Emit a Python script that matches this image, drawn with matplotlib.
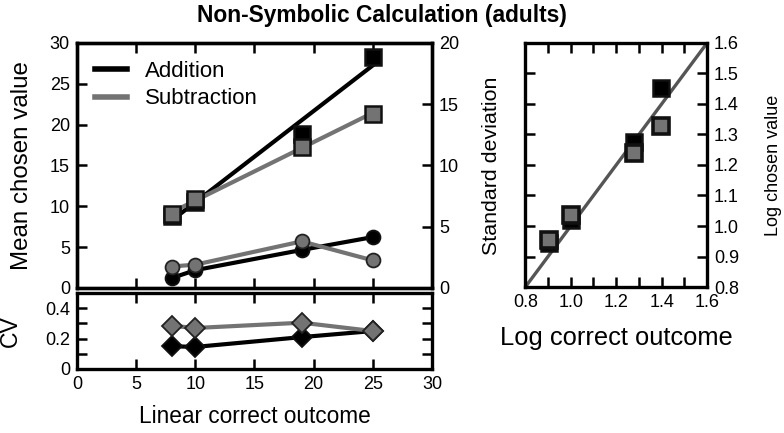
import numpy as np
import matplotlib
matplotlib.use("Agg")
import matplotlib.pyplot as plt
from matplotlib.ticker import MultipleLocator, FixedLocator, FormatStrFormatter

# values
outcome = np.array([8, 10, 19, 25])
add_mean = np.array([8.8, 10.5, 18.9, 28.3])
sub_mean = np.array([9.0, 10.9, 17.3, 21.3])
add_sd = np.array([0.8, 1.45, 3.1, 4.15])
sub_sd = np.array([1.75, 1.9, 3.8, 2.25])
add_cv = np.array([0.15, 0.145, 0.21, 0.25])
sub_cv = np.array([0.285, 0.27, 0.305, 0.25])

BLACK = "black"
GRAY = "#737373"

plt.rcParams["font.family"] = "Liberation Sans"
plt.rcParams["font.size"] = 13

fig = plt.figure(figsize=(7.84, 4.33), dpi=100)
ax = fig.add_axes([0.098, 0.335, 0.453, 0.566])
ax_sd = ax.twinx()
ax_cv = fig.add_axes([0.098, 0.148, 0.453, 0.175])
ax_log = fig.add_axes([0.670, 0.337, 0.232, 0.564])


def style(a):
    for s in a.spines.values():
        s.set_linewidth(2.4)
    a.tick_params(which="both", direction="in", width=1.8, length=7, labelsize=13, pad=5)


# mean chosen value, with linear fits
for mean, col in [(add_mean, BLACK), (sub_mean, GRAY)]:
    slope, icpt = np.polyfit(outcome, mean, 1)
    xs = np.array([outcome.min(), outcome.max()])
    ax.plot(xs, slope * xs + icpt, color=col, lw=3, zorder=2)
    ax.plot(outcome, mean, "s", ms=12, mfc=col, mec="#111111", mew=1.8, zorder=3)
ax.plot([], [], color=BLACK, lw=4, label="Addition")
ax.plot([], [], color=GRAY, lw=4, label="Subtraction")
ax.legend(loc="upper left", frameon=False, fontsize=16, handlelength=1.45,
          handletextpad=0.8, borderaxespad=0.4, labelspacing=0.3)
ax.set_xlim(0, 30)
ax.set_ylim(0, 30)
ax.xaxis.set_major_locator(MultipleLocator(5))
ax.set_yticks([0, 5, 10, 15, 20, 25, 30])
ax.tick_params(labelbottom=False, top=True)
ax.set_ylabel("Mean chosen value", fontsize=17.4)
ax.yaxis.set_label_coords(-0.124, 0.5)
style(ax)

# standard deviation on twin axis
ax_sd.plot(outcome, add_sd, "o-", color=BLACK, lw=3, ms=10, mec="#111111", mew=1.3, zorder=3)
ax_sd.plot(outcome, sub_sd, "o-", color=GRAY, lw=3, ms=10, mec="#222222", mew=1.3, zorder=3)
ax_sd.set_ylim(0, 20)
ax_sd.set_yticks([0, 5, 10, 15, 20])
ax_sd.set_ylabel("Standard deviation", fontsize=15.4)
ax_sd.yaxis.set_label_coords(1.141, 0.5)
style(ax_sd)

# coefficient of variation
ax_cv.plot(outcome, add_cv, "D-", color=BLACK, lw=3, ms=10, mec="#111111", mew=1.3)
ax_cv.plot(outcome, sub_cv, "D-", color=GRAY, lw=3, ms=10, mec="#222222", mew=1.3)
ax_cv.set_xlim(0, 30)
ax_cv.xaxis.set_major_locator(MultipleLocator(5))
ax_cv.yaxis.set_major_locator(FixedLocator([0, 0.1, 0.2, 0.3, 0.4]))
ax_cv.yaxis.set_major_formatter(
    matplotlib.ticker.FuncFormatter(lambda v, p: {0: "0", 2: "0.2", 4: "0.4"}.get(round(v * 10), "")))
ax_cv.set_ylim(0, 0.5)
ax_cv.tick_params(top=True, right=True)
ax_cv.set_ylabel("CV", fontsize=16.6)
ax_cv.yaxis.set_label_coords(-0.155, 0.5)
ax_cv.set_xlabel("Linear correct outcome", fontsize=16.3)
ax_cv.xaxis.set_label_coords(0.5, -0.47)
style(ax_cv)

# log-log panel
ax_log.plot([0.8, 1.6], [0.8, 1.6], color="#555555", lw=2.4, zorder=2)
ax_log.plot(np.log10(outcome), np.log10(add_mean), "s", ms=12, mfc=BLACK,
            mec="#111111", mew=1.8, zorder=3)
ax_log.plot(np.log10(outcome), np.log10(sub_mean), "s", ms=11, mfc=GRAY,
            mec="#111111", mew=2.6, zorder=4)
ax_log.set_xlim(0.8, 1.6)
ax_log.set_ylim(0.8, 1.6)
ax_log.xaxis.set_major_locator(FixedLocator([0.8, 1.0, 1.2, 1.4, 1.6]))
ax_log.xaxis.set_minor_locator(MultipleLocator(0.1))
ax_log.yaxis.set_major_locator(MultipleLocator(0.1))
ax_log.xaxis.set_major_formatter(FormatStrFormatter("%.1f"))
ax_log.yaxis.set_major_formatter(FormatStrFormatter("%.1f"))
ax_log.tick_params(which="both", top=True, right=True, labelleft=False, labelright=True)
ax_log.yaxis.set_label_position("right")
ax_log.set_ylabel("Log chosen value", fontsize=13)
ax_log.yaxis.set_label_coords(1.319, 0.5)
ax_log.set_xlabel("Log correct outcome", fontsize=18.4)
ax_log.xaxis.set_label_coords(0.5, -0.16)
style(ax_log)

fig.text(0.487, 0.965, "Non-Symbolic Calculation (adults)", ha="center", va="center",
         fontsize=16.4, fontweight="bold")

fig.savefig("out.png", dpi=100, facecolor="white")
